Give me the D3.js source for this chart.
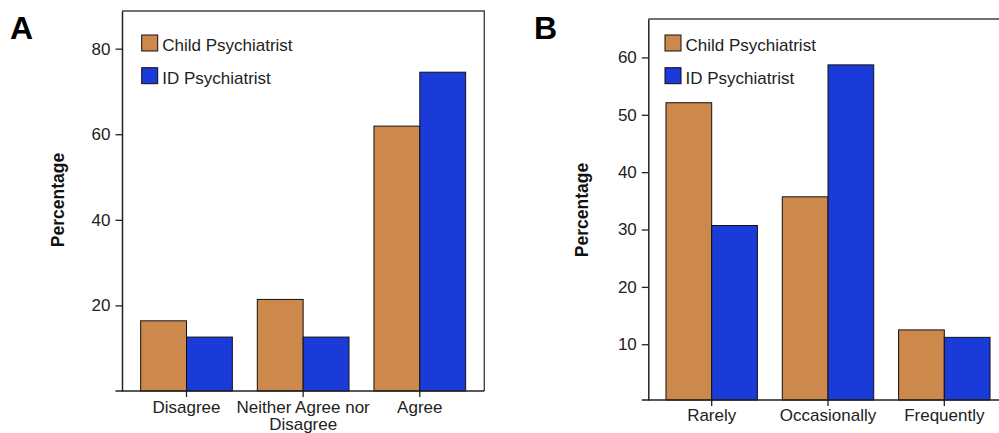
<!DOCTYPE html>
<html lang="en">
<head>
<meta charset="UTF-8">
<title>Percentage by psychiatrist type</title>
<script src="https://d3js.org/d3.v7.min.js"></script>
<style>
  body { margin: 0; background: #fff; }
  svg { display: block; font-family: "Liberation Sans", Arial, sans-serif; }
</style>
</head>
<body>
<svg id="chart" width="999" height="433"></svg>
<script>

// panel A
const catsA = ["Disagree", "Neither Agree nor\nDisagree", "Agree"];
const childA = [16.4, 21.4, 61.9];
const idA = [12.6, 12.6, 74.5];
const ticksA = [20, 40, 60, 80];

// panel B
const catsB = ["Rarely", "Occasionally", "Frequently"];
const childB = [52.1, 35.7, 12.5];
const idB = [30.7, 58.7, 11.2];
const ticksB = [10, 20, 30, 40, 50, 60];

const seriesNames = ["Child Psychiatrist", "ID Psychiatrist"];
const colors = ["#cd884b", "#1a3bd8"];

const svg = d3.select('#chart');

function drawPanel(opt) {
    const g = svg.append('g');
    const x = d3.scaleBand().domain(opt.cats).range([opt.left, opt.right])
        .paddingInner(0.214).paddingOuter(opt.outer);
    const sub = d3.scaleBand().domain(seriesNames).range([0, x.bandwidth()]);
    const y = d3.scaleLinear().domain(opt.yDomain).range([opt.bottom, opt.top]);

    // frame (top + right)
    g.append('path')
        .attr('d', `M${opt.left},${opt.top}H${opt.right}V${opt.bottom}`)
        .attr('fill', 'none').attr('stroke', '#444').attr('stroke-width', 1.4);

    // bars
    const rows = opt.cats.map((c, i) => ({ cat: c, vals: [opt.child[i], opt.id[i]] }));
    g.selectAll('g.grp').data(rows).enter().append('g')
        .attr('transform', d => `translate(${x(d.cat)},0)`)
        .selectAll('rect')
        .data(d => d.vals.map((v, j) => ({ name: seriesNames[j], v: v, j: j })))
        .enter().append('rect')
        .attr('x', d => sub(d.name))
        .attr('width', sub.bandwidth())
        .attr('y', d => y(d.v))
        .attr('height', d => opt.bottom - y(d.v))
        .attr('fill', d => colors[d.j])
        .attr('stroke', '#111').attr('stroke-width', 1);

    // y axis
    const yAxis = d3.axisLeft(y).tickValues(opt.ticks).tickSize(6.5).tickSizeOuter(0).tickPadding(5);
    const ya = g.append('g').attr('transform', `translate(${opt.left},0)`).call(yAxis);
    ya.attr('font-family', null).attr('font-size', 17);
    ya.select('.domain').attr('stroke', '#222').attr('stroke-width', 1.5);
    ya.selectAll('.tick line').attr('stroke', '#222').attr('stroke-width', 1.3);
    ya.selectAll('.tick text').attr('fill', '#222');

    // x axis
    const xAxis = d3.axisBottom(x).tickSize(6).tickSizeOuter(0).tickFormat('');
    const xa = g.append('g').attr('transform', `translate(0,${opt.bottom})`).call(xAxis);
    xa.select('.domain').remove();
    xa.selectAll('.tick line').attr('stroke', '#222').attr('stroke-width', 1.3);
    g.append('line')
        .attr('x1', opt.left - 6.5).attr('x2', opt.right)
        .attr('y1', opt.bottom).attr('y2', opt.bottom)
        .attr('stroke', '#222').attr('stroke-width', 1.5);

    // category labels
    const lab = g.selectAll('text.cat').data(opt.cats).enter().append('text')
        .attr('class', 'cat')
        .attr('x', d => x(d) + x.bandwidth() / 2)
        .attr('y', opt.bottom + opt.labelOff)
        .attr('text-anchor', 'middle').attr('font-size', 17).attr('fill', '#222');
    lab.selectAll('tspan').data(d => d.split('\n')).enter().append('tspan')
        .attr('x', function () { return d3.select(this.parentNode).attr('x'); })
        .attr('dy', (d, i) => i === 0 ? 0 : 16.5)
        .text(d => d);

    // y title
    g.append('text')
        .attr('transform', `translate(${opt.titleX},${opt.titleY}) rotate(-90)`)
        .attr('text-anchor', 'middle').attr('font-size', 17.5).attr('font-weight', 'bold')
        .attr('fill', '#111')
        .text('Percentage');

    // legend
    seriesNames.forEach((n, i) => {
        const ly = 35 + i * 32.7;
        g.append('rect').attr('x', opt.legX).attr('y', ly).attr('width', 16).attr('height', 16)
            .attr('fill', colors[i]).attr('stroke', '#111').attr('stroke-width', 1);
        g.append('text').attr('x', opt.legX + 20.5).attr('y', ly + 16)
            .attr('font-size', 17).attr('fill', '#222').text(n);
    });

    // panel letter
    g.append('text').attr('x', opt.letterX).attr('y', 38.5)
        .attr('font-size', 32).attr('font-weight', 'bold').attr('fill', '#000')
        .text(opt.letter);
}

drawPanel({
    cats: catsA, child: childA, id: idA, ticks: ticksA,
    left: 122, right: 484.3, top: 11, bottom: 391, outer: 0.16,
    yDomain: [0, 88.8], labelOff: 22,
    titleX: 64, titleY: 200, legX: 141.7, letter: 'A', letterX: 10
});

drawPanel({
    cats: catsB, child: childB, id: idB, ticks: ticksB,
    left: 648.3, right: 1007.7, top: 19, bottom: 400, outer: 0.152,
    yDomain: [0.28, 66.7], labelOff: 21,
    titleX: 588, titleY: 210, legX: 665, letter: 'B', letterX: 534
});

</script>
</body>
</html>
